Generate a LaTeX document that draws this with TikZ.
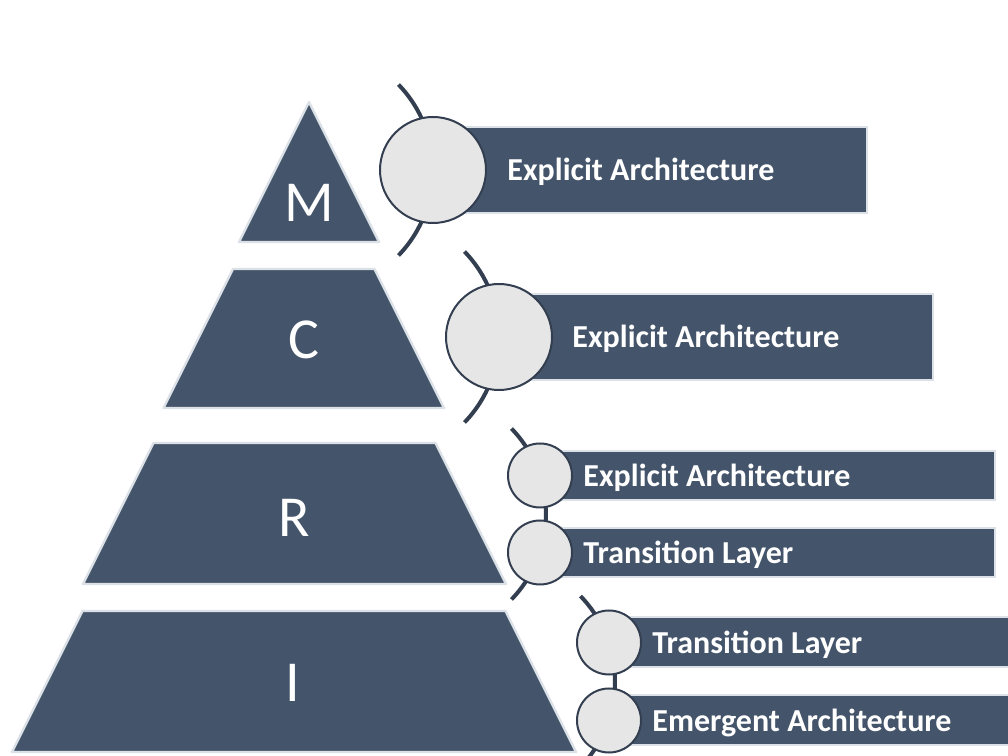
\documentclass[tikz,border=0pt]{standalone}
\usepackage{fontspec}
\setmainfont{Carlito}
\usetikzlibrary{positioning}
\definecolor{slate}{HTML}{44546A}
\definecolor{rim}{HTML}{DCE1E8}
\definecolor{disc}{HTML}{E7E6E6}
\definecolor{ink}{HTML}{333F50}

\begin{document}
\begin{tikzpicture}[x=0.5pt, y=0.5pt,
  lay/.style={fill=slate, draw=rim, line width=1.2pt, line join=round},
  bar/.style={fill=slate, draw=rim, line width=1pt, anchor=west, inner sep=0pt},
  big/.style={circle, fill=disc, draw=ink, line width=1pt, minimum size=53pt, inner sep=0pt},
  small/.style={circle, fill=disc, draw=ink, line width=1pt, minimum size=32pt, inner sep=0pt},
  rib/.style={draw=ink, line width=2pt},
  tag/.style={text=white, font=\bfseries\fontsize{16}{18}\selectfont, inner sep=0pt, yshift=-1pt},
  let/.style={text=white, font=\fontsize{29}{34}\selectfont, inner sep=0pt}]
\clip (0,0) rectangle (1008,756);
\fill[white] (0,0) rectangle (1008,756);
\draw[lay] (309,654) -- (379,514) -- (239,514) -- cycle;
\draw[lay] (233,487) -- (374.5,487) -- (444,348) -- (163.5,348) -- cycle;
\draw[lay] (153.5,313) -- (435.5,313) -- (506,172) -- (83,172) -- cycle;
\draw[lay] (82.5,145) -- (505.5,145) -- (576,4) -- (12,4) -- cycle;
\node[let] (m) at (309,553.5) {M};
\node[let] (c) at (304,416) {C};
\node[let] (r) at (294,238) {R};
\node[let] (i) at (293,73) {I};
\coordinate (p1) at (433,586);
\coordinate (p2) at (499,419);
\coordinate (p3) at (540,280.5);
\coordinate (p4) at (540,203.5);
\coordinate (p5) at (609,113.5);
\coordinate (p6) at (609,35.5);
\coordinate (o1) at (310,586);
\coordinate (o2) at (376,419);
\coordinate (o3) at (423,242);
\coordinate (o4) at (492,74.5);
\draw[rib] (o1) ++(-44:123) arc[start angle=-44, end angle=44, radius=123];
\draw[rib] (o2) ++(-44:123) arc[start angle=-44, end angle=44, radius=123];
\draw[rib] (o3) ++(-44:123) arc[start angle=-44, end angle=44, radius=123];
\draw[rib] (o4) ++(-44:123) arc[start angle=-44, end angle=44, radius=123];
\node[bar, minimum width=216.5pt, minimum height=43pt] (b1) at (p1) {};
\node[bar, minimum width=216.5pt, minimum height=43pt] (b2) at (p2) {};
\node[bar, minimum width=227pt, minimum height=24.5pt] (b3) at (p3) {};
\node[bar, minimum width=227pt, minimum height=24.5pt] (b4) at (p4) {};
\node[bar, minimum width=228pt, minimum height=25pt] (b5) at (p5) {};
\node[bar, minimum width=228pt, minimum height=25pt] (b6) at (p6) {};
\node[big] (c1) at (p1) {};
\node[big] (c2) at (p2) {};
\node[small] (c3) at (p3) {};
\node[small] (c4) at (p4) {};
\node[small] (c5) at (p5) {};
\node[small] (c6) at (p6) {};
\node[tag, right=10pt of c1] (t1) {Explicit Architecture};
\node[tag, right=9.5pt of c2] (t2) {Explicit Architecture};
\node[tag, right=5pt of c3] (t3) {Explicit Architecture};
\node[tag, right=5pt of c4] (t4) {Transition Layer};
\node[tag, right=5pt of c5] (t5) {Transition Layer};
\node[tag, right=5pt of c6] (t6) {Emergent Architecture};
\end{tikzpicture}
\end{document}
